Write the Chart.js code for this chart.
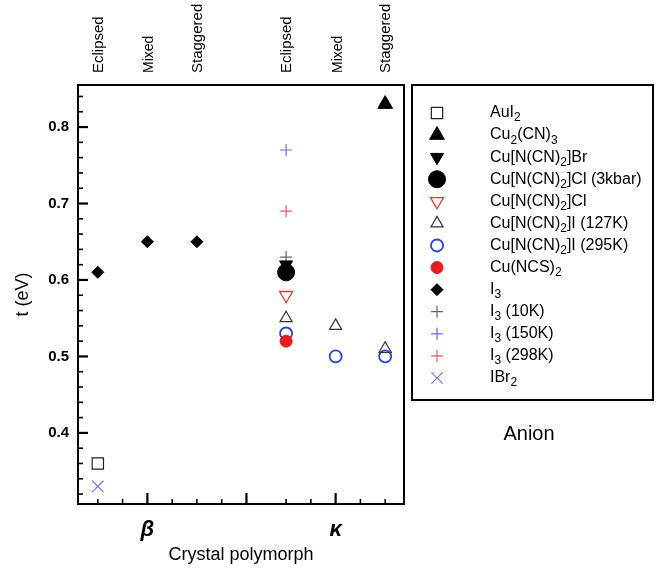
<!DOCTYPE html>
<html>
<head>
<meta charset="utf-8">
<script src="https://cdn.jsdelivr.net/npm/chart.js@4.4.0/dist/chart.umd.min.js"></script>
<style>
  html, body { margin: 0; padding: 0; background: #fff; }
  #wrap { width: 668px; height: 573px; }
</style>
</head>
<body>
<div id="wrap"><canvas id="chart" width="668" height="573"></canvas></div>
<script>
const FONT = "'Liberation Sans', Arial, Helvetica, sans-serif";

// x layout: structures on top, polymorphs below
const structures = ["Eclipsed", "Mixed", "Staggered", "Eclipsed", "Mixed", "Staggered"];
const structureX = [1, 2, 3, 4.8, 5.8, 6.8];
const polymorphs = ["β", "κ"];
const polymorphX = [2, 5.8];
const xMajorTicks = [2, 4, 5.8];
const xMinorTicks = [1, 1.5, 2.5, 3, 3.5, 4.8, 5.3, 6.3, 6.8];
const yTicks = [0.4, 0.5, 0.6, 0.7, 0.8];
const yTickLabels = ["0.4", "0.5", "0.6", "0.7", "0.8"];
const yMinorTicks = [0.32, 0.34, 0.36, 0.38, 0.42, 0.44, 0.46, 0.48, 0.52, 0.54, 0.56, 0.58,
  0.62, 0.64, 0.66, 0.68, 0.72, 0.74, 0.76, 0.78, 0.82, 0.84];

// t (eV) per anion, one slot per structure (null = not measured)
const auI2      = [0.36, null, null, null, null, null];
const cu2cn3    = [null, null, null, null, null, 0.83];
const cuBr      = [null, null, null, 0.62, null, null];
const cuCl3kbar = [null, null, null, 0.61, null, null];
const cuCl      = [null, null, null, 0.58, null, null];
const cuI127K   = [null, null, null, 0.55, 0.54, 0.51];
const cuI295K   = [null, null, null, 0.53, 0.50, 0.50];
const cuNCS2    = [null, null, null, 0.52, null, null];
const i3        = [0.61, 0.65, 0.65, null, null, null];
const i3_10K    = [null, null, null, 0.63, null, null];
const i3_150K   = [null, null, null, 0.77, null, null];
const i3_298K   = [null, null, null, 0.69, null, null];
const iBr2      = [0.33, null, null, null, null, null];

const anionNames = ["AuI_2", "Cu_2(CN)_3", "Cu[N(CN)_2]Br", "Cu[N(CN)_2]Cl (3kbar)", "Cu[N(CN)_2]Cl",
  "Cu[N(CN)_2]I (127K)", "Cu[N(CN)_2]I (295K)", "Cu(NCS)_2", "I_3", "I_3 (10K)", "I_3 (150K)",
  "I_3 (298K)", "IBr_2"];
const anionValues = [auI2, cu2cn3, cuBr, cuCl3kbar, cuCl, cuI127K, cuI295K, cuNCS2, i3,
  i3_10K, i3_150K, i3_298K, iBr2];

// marker styles, same order as anionNames
const none = "rgba(0,0,0,0)";
const markers = [
  { style: "rect", r: 8, rot: 0, fill: none, line: "#222", w: 1.2 },
  { style: "triangle", r: 8.5, rot: 0, fill: "#000", line: "#000", w: 1 },
  { style: "triangle", r: 7.5, rot: 180, fill: "#000", line: "#000", w: 1 },
  { style: "circle", r: 8.5, rot: 0, fill: "#000", line: "#000", w: 1 },
  { style: "triangle", r: 7.5, rot: 180, fill: none, line: "#e33a3a", w: 1.3 },
  { style: "triangle", r: 7, rot: 0, fill: none, line: "#333", w: 1.2 },
  { style: "circle", r: 6, rot: 0, fill: none, line: "#2843e6", w: 1.8 },
  { style: "circle", r: 6, rot: 0, fill: "#e61e1e", line: "#e61e1e", w: 1 },
  { style: "rectRot", r: 6, rot: 0, fill: "#000", line: "#000", w: 1 },
  { style: "cross", r: 6, rot: 0, fill: none, line: "#666", w: 1.2 },
  { style: "cross", r: 6, rot: 0, fill: none, line: "#6a6af2", w: 1.2 },
  { style: "cross", r: 6, rot: 0, fill: none, line: "#ee5a5a", w: 1.2 },
  { style: "crossRot", r: 8, rot: 0, fill: none, line: "#7676ee", w: 1.2 }
];
// drawing order (lower = on top)
const drawOrder = [0, 1, 3, 2, 4, 5, 7, 6, 8, 9, 10, 11, 12];

const datasets = anionNames.map((name, k) => {
  const m = markers[k];
  const pts = [];
  anionValues[k].forEach((v, i) => { if (v !== null) pts.push({ x: structureX[i], y: v }); });
  return {
    label: name.replace(/_/g, ""),
    data: pts,
    order: drawOrder[k],
    pointStyle: m.style,
    pointRadius: m.r,
    pointRotation: m.rot,
    pointBackgroundColor: m.fill,
    pointBorderColor: m.line,
    pointBorderWidth: m.w,
    showLine: false
  };
});

function drawRich(ctx, text, x, y, size) {
  let cx = x;
  text.split(/(_\d)/).forEach(p => {
    if (!p) return;
    if (p[0] === "_") {
      ctx.font = Math.round(size * 0.75) + "px " + FONT;
      ctx.fillText(p.slice(1), cx, y + size * 0.32);
      cx += ctx.measureText(p.slice(1)).width;
    } else {
      ctx.font = size + "px " + FONT;
      ctx.fillText(p, cx, y);
      cx += ctx.measureText(p).width;
    }
  });
}

// frame, inward tick marks, boxed legend
const framePlugin = {
  id: "framePlugin",
  afterDraw(chart) {
    const ctx = chart.ctx, a = chart.chartArea;
    const xs = chart.scales.x, ys = chart.scales.y;
    ctx.save();
    ctx.strokeStyle = "#000";
    ctx.lineCap = "butt";

    ctx.lineWidth = 1.6;
    yMinorTicks.forEach(v => {
      const py = ys.getPixelForValue(v);
      ctx.beginPath(); ctx.moveTo(a.left, py); ctx.lineTo(a.left + 5, py); ctx.stroke();
    });
    xMinorTicks.forEach(v => {
      const px = xs.getPixelForValue(v);
      ctx.beginPath(); ctx.moveTo(px, a.bottom); ctx.lineTo(px, a.bottom - 5); ctx.stroke();
    });
    ctx.lineWidth = 2.2;
    yTicks.forEach(v => {
      const py = ys.getPixelForValue(v);
      ctx.beginPath(); ctx.moveTo(a.left, py); ctx.lineTo(a.left + 10, py); ctx.stroke();
    });
    xMajorTicks.forEach(v => {
      const px = xs.getPixelForValue(v);
      ctx.beginPath(); ctx.moveTo(px, a.bottom); ctx.lineTo(px, a.bottom - 11); ctx.stroke();
    });
    ctx.lineWidth = 2;
    ctx.strokeRect(a.left, a.top, a.right - a.left, a.bottom - a.top);

    // legend
    ctx.strokeRect(412, 85, 241, 315);
    ctx.textBaseline = "middle";
    ctx.textAlign = "left";
    anionNames.forEach((name, k) => {
      const m = markers[k];
      const y = 113 + k * 22.08;
      ctx.fillStyle = m.fill;
      ctx.strokeStyle = m.line;
      ctx.lineWidth = m.w;
      Chart.helpers.drawPoint(ctx, { pointStyle: m.style, radius: m.r, rotation: m.rot, borderWidth: m.w }, 437, y);
      ctx.fillStyle = "#000";
      drawRich(ctx, name, 490, y, 16);
    });
    ctx.textAlign = "center";
    ctx.font = "20px " + FONT;
    ctx.fillText("Anion", 529, 434);
    ctx.restore();
  }
};

new Chart(document.getElementById("chart"), {
  type: "scatter",
  data: { datasets: datasets },
  options: {
    responsive: false,
    animation: false,
    events: [],
    devicePixelRatio: 1,
    layout: { padding: { left: 0, right: 264, top: 0, bottom: 0 } },
    plugins: { legend: { display: false }, tooltip: { enabled: false } },
    scales: {
      x: {
        type: "linear",
        position: "bottom",
        min: 0.6,
        max: 7.18,
        afterBuildTicks: s => { s.ticks = polymorphX.map(v => ({ value: v })); },
        afterFit: s => { s.height = 69; },
        grid: { display: false, drawTicks: false },
        border: { display: false },
        ticks: {
          autoSkip: false,
          maxRotation: 0,
          padding: 13,
          color: "#000",
          font: { family: FONT, size: 22, weight: "bold", style: "italic" },
          callback: (v, i) => polymorphs[i]
        },
        title: {
          display: true,
          text: "Crystal polymorph",
          color: "#000",
          font: { family: FONT, size: 18 },
          padding: { top: 0, bottom: 7 }
        }
      },
      xTop: {
        type: "linear",
        position: "top",
        min: 0.6,
        max: 7.18,
        afterBuildTicks: s => { s.ticks = structureX.map(v => ({ value: v })); },
        afterFit: s => { s.height = 85; },
        grid: { display: false, drawTicks: false },
        border: { display: false },
        ticks: {
          autoSkip: false,
          minRotation: 90,
          maxRotation: 90,
          padding: 12,
          labelOffset: 19,
          color: "#000",
          font: c => ({ family: FONT, size: structures[c.index] === "Mixed" ? 14 : 15 }),
          callback: (v, i) => structures[i]
        }
      },
      y: {
        min: 0.307,
        max: 0.855,
        afterBuildTicks: s => { s.ticks = yTicks.map(v => ({ value: v })); },
        afterFit: s => { s.width = 78; },
        grid: { display: false, drawTicks: false },
        border: { display: false },
        ticks: {
          padding: 9,
          color: "#000",
          font: { family: FONT, size: 15, weight: "bold" },
          callback: (v, i) => yTickLabels[i]
        },
        title: {
          display: true,
          text: "t (eV)",
          color: "#000",
          font: { family: FONT, size: 18 },
          padding: { top: 12, bottom: 0 }
        }
      }
    }
  },
  plugins: [framePlugin]
});
</script>
</body>
</html>
